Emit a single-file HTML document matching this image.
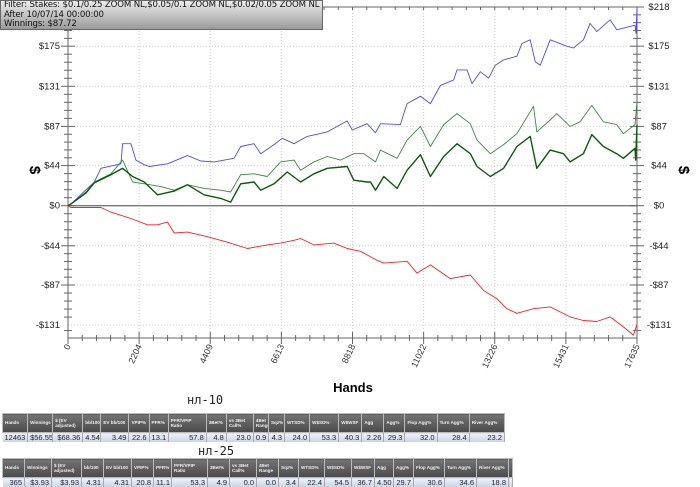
<!DOCTYPE html>
<html><head><meta charset="utf-8"><style>
body{margin:0;width:700px;height:485px;background:#fff;overflow:hidden;font-family:"Liberation Sans",sans-serif;position:relative}
#filter{position:absolute;left:0;top:0;width:323px;height:30px;border:1px solid #666;background:linear-gradient(#ececec,#9a9a9a);font-size:8.6px;line-height:9.6px;padding-left:3px;box-sizing:border-box;color:#111;font-family:"DejaVu Sans",sans-serif;white-space:nowrap;overflow:hidden;letter-spacing:-0.15px}
.ttl{position:absolute;font-size:12px;font-family:"DejaVu Sans Mono","Liberation Mono",monospace;color:#222;line-height:12px}
table{position:absolute;left:2px;border-collapse:collapse;table-layout:fixed}
th{background:linear-gradient(#747474,#4a4a4a);color:#eee;font-weight:bold;border:1px solid #bbb;height:18px;padding:0 2px;text-align:left;font-size:4.6px;line-height:5.5px;overflow:hidden;white-space:normal;vertical-align:middle}
td{background:linear-gradient(#eef2fa,#c8d4e6);border-right:1px solid #aaa;text-align:right;height:9px;padding:0 2px;font-size:7.5px;color:#223;line-height:9px;white-space:nowrap;overflow:hidden}
</style></head><body>
<svg id="chart" width="700" height="400" style="position:absolute;left:0;top:0"></svg>
<div id="filter">Filter: Stakes: $0.1/0.25 ZOOM NL,$0.05/0.1 ZOOM NL,$0.02/0.05 ZOOM NL<br>After 10/07/14 00:00:00<br>Winnings: $87.72</div>
<div class="ttl" style="left:187px;top:394px">нл-10</div>
<table style="top:413px;width:503px">
<colgroup><col style="width:25px"><col style="width:25px"><col style="width:30px"><col style="width:18px"><col style="width:28px"><col style="width:20px"><col style="width:19px"><col style="width:38px"><col style="width:20px"><col style="width:27px"><col style="width:15px"><col style="width:16px"><col style="width:25px"><col style="width:29px"><col style="width:23px"><col style="width:22px"><col style="width:21px"><col style="width:32px"><col style="width:32px"><col style="width:35px"></colgroup>
<tr><th>Hands</th><th>Winnings</th><th>$ (EV adjusted)</th><th>bb/100</th><th>EV bb/100</th><th>VPIP%</th><th>PFR%</th><th>PFR/VPIP Ratio</th><th>3Bet%</th><th>vs 3Bet Call%</th><th>4Bet Range</th><th>Sqz%</th><th>WTSD%</th><th>W$SD%</th><th>W$WSF</th><th>Agg</th><th>Agg%</th><th>Flop Agg%</th><th>Turn Agg%</th><th>River Agg%</th></tr>
<tr><td>12463</td><td>$56.55</td><td>$68.36</td><td>4.54</td><td>3.49</td><td>22.6</td><td>13.1</td><td>57.8</td><td>4.8</td><td>23.0</td><td>0.9</td><td>4.3</td><td>24.0</td><td>53.3</td><td>40.3</td><td>2.26</td><td>29.3</td><td>32.0</td><td>28.4</td><td>23.2</td></tr>
</table>
<div class="ttl" style="left:198px;top:445px">нл-25</div>
<table style="top:458px;width:507px">
<colgroup><col style="width:22px"><col style="width:27px"><col style="width:30px"><col style="width:22px"><col style="width:28px"><col style="width:22px"><col style="width:18px"><col style="width:36px"><col style="width:22px"><col style="width:27px"><col style="width:22px"><col style="width:20px"><col style="width:26px"><col style="width:27px"><col style="width:23px"><col style="width:19px"><col style="width:20px"><col style="width:31px"><col style="width:32px"><col style="width:32px"><col style="width:4px"></colgroup>
<tr><th>Hands</th><th>Winnings</th><th>$ (EV adjusted)</th><th>bb/100</th><th>EV bb/100</th><th>VPIP%</th><th>PFR%</th><th>PFR/VPIP Ratio</th><th>3Bet%</th><th>vs 3Bet Call%</th><th>4Bet Range</th><th>Sqz%</th><th>WTSD%</th><th>W$SD%</th><th>W$WSF</th><th>Agg</th><th>Agg%</th><th>Flop Agg%</th><th>Turn Agg%</th><th>River Agg%</th><th></th></tr>
<tr><td>365</td><td>$3.93</td><td>$3.93</td><td>4.31</td><td>4.31</td><td>20.8</td><td>11.1</td><td>53.3</td><td>4.9</td><td>0.0</td><td>0.0</td><td>3.4</td><td>22.4</td><td>54.5</td><td>36.7</td><td>4.50</td><td>29.7</td><td>30.6</td><td>34.6</td><td>18.8</td><td></td></tr>
</table>
<script>
const xTicks=[0,2204,4409,6613,8818,11022,13226,15431,17635];
const yTicks=[218,175,131,87,44,0,-44,-87,-131];
const yTickLabels=["$218","$175","$131","$87","$44","$0","-$44","-$87","-$131"];
const blueHands=[0,93,815,1021,1640,1691,1949,2104,2362,2516,3083,3702,4115,4527,5146,5353,5765,5971,6384,6642,7003,7415,8034,8653,8808,9271,9529,9684,10303,10406,10509,10922,11231,11541,11953,12056,12365,12520,12778,13035,13242,13500,13913,14068,14325,14480,14635,14944,15460,15666,15975,16182,16388,16800,17006,17574,17605,17635];
const blueVals=[0,2,26,41,46,68,68,50,45,43,46,55,49,48,52,65,68,57,67,74,68,76,81,93,83,90,80,90,89,101,112,120,112,132,138,149,149,134,147,140,154,160,164,178,182,158,154,182,175,173,182,200,191,204,193,198,189,217];
const lgHands=[0,93,557,815,1330,1691,2001,2362,2877,3290,3702,4218,4734,5043,5353,5765,6178,6590,7003,7209,7621,8034,8447,8859,9168,9529,9684,10200,10509,10922,11231,11643,12056,12469,12675,13088,13500,13913,14428,14531,14944,15150,15563,15872,16233,16594,17006,17212,17574,17635];
const lgVals=[0,2,15,26,35,50,26,24,21,17,23,19,17,15,34,35,32,48,50,39,48,54,50,57,57,48,61,52,72,87,65,89,101,90,72,57,67,79,109,81,94,101,87,92,110,92,89,79,89,114];
const dgHands=[0,93,557,815,1330,1691,2001,2362,2774,3290,3702,4218,4734,5043,5353,5765,5971,6384,6796,7209,7621,8034,8653,8859,9271,9375,9530,9787,10200,10509,10922,11231,11643,12056,12469,12675,13088,13500,13913,14325,14531,14944,15356,15563,15975,16233,16594,17006,17212,17574,17595,17635];
const dgVals=[0,2,14,25,34,41,32,26,12,16,23,12,8,4,24,26,17,24,37,26,35,41,43,28,26,26,17,32,19,39,56,32,54,68,57,43,32,41,65,76,41,61,57,48,57,78,65,57,52,63,50,89];
const redH=[0,93,1021,1330,1949,2465,2774,3083,3290,3702,4321,4940,5559,6178,6590,7003,7209,7621,8240,8653,9065,9581,9787,10509,10818,11231,11850,12469,12881,13294,13604,13913,14428,14944,15563,15975,16388,16800,17212,17522,17635];
const redV=[0,-2,-2,-7,-14,-21,-21,-18,-30,-29,-34,-40,-47,-43,-41,-38,-36,-43,-41,-47,-50,-60,-63,-61,-74,-65,-80,-76,-93,-102,-113,-118,-113,-111,-122,-126,-127,-122,-133,-142,-130];
const X0=68,X1=637,Y0=7,Y1=338,XMAX=17635,YMAX=218;
const sx=h=>X0+(h/XMAX)*(X1-X0);
const sy=v=>205.7-(v/YMAX)*(205.7-Y0);
const svg=document.getElementById('chart');const NS='http://www.w3.org/2000/svg';
function mk(t,a,p){const e=document.createElementNS(NS,t);for(const k in a)e.setAttribute(k,a[k]);(p||svg).appendChild(e);return e;}
xTicks.forEach((t,i)=>{if(i>0&&i<xTicks.length-1){const g=mk('line',{x1:sx(t),x2:sx(t),y1:Y0,y2:Y1,stroke:'#ccc','stroke-dasharray':'1,2'});}});
yTicks.forEach(t=>{if(t!==0&&t!==218){const g=mk('line',{x1:X0,x2:X1,y1:sy(t),y2:sy(t),stroke:'#ccc','stroke-dasharray':'1,2'});}});
const fr=mk('path',{d:`M${X0} ${Y0}H${X1}M${X0} ${Y0}V${Y1}H${X1}V${Y0}`,stroke:'#666',fill:'none'});

const zl=mk('line',{x1:X0,x2:X1,y1:sy(0),y2:sy(0),stroke:'#777','stroke-width':1.3});

for(let i=0;i<xTicks.length-1;i++){for(let k=0;k<5;k++){const h=xTicks[i]+(xTicks[i+1]-xTicks[i])*k/5;const big=k===0;
 mk('line',{x1:sx(h),x2:sx(h),y1:Y1-(big?6:3),y2:Y1+(big?6:3),stroke:'#666'});
 mk('line',{x1:sx(h),x2:sx(h),y1:Y0,y2:Y0+3,stroke:'#666'});}}
mk('line',{x1:X1,x2:X1,y1:Y1-6,y2:Y1+6,stroke:'#666'});
xTicks.forEach(t=>{const x=sx(t),y=346;const tx=mk('text',{x:x+3,y:y,'text-anchor':'end','font-size':9,fill:'#333',transform:`rotate(-65 ${x+3} ${y})`});tx.textContent=t;
 });
for(let i=0;i<yTicks.length-1;i++){for(let k=0;k<5;k++){const v=yTicks[i]+(yTicks[i+1]-yTicks[i])*k/5;const big=k===0;
 [X0,X1].forEach(ax=>mk('line',{x1:ax-(big?7:4),x2:ax+(big?7:4),y1:sy(v),y2:sy(v),stroke:'#666'}));}}
[X0,X1].forEach(ax=>mk('line',{x1:ax-4,x2:ax+4,y1:sy(-137),y2:sy(-137),stroke:'#666'}));
yTicks.forEach((t,i)=>{const l=mk('text',{x:X0-8,y:sy(t)+3,'text-anchor':'end','font-size':9.5,fill:'#222'});l.textContent=yTickLabels[i];
 
 const r=mk('text',{x:X1+22,y:sy(t)+3,'text-anchor':'middle','font-size':9.5,fill:'#222'});r.textContent=yTickLabels[i];
 });
function series(H,V,col,name,w){const pts=H.map((h,i)=>sx(h).toFixed(1)+','+sy(V[i]).toFixed(1)).join(' ');
 const p=mk('polyline',{points:pts,stroke:col,fill:'none','stroke-width':w,'stroke-linejoin':'round'});}
series(redH,redV,'#ff2020','series-red-line',0.9);
series(blueHands,blueVals,'#4a4aff','series-blue-line',0.9);
series(lgHands,lgVals,'#3a8a3a','series-light-green-line',0.9);
series(dgHands,dgVals,'#0b5a0b','series-dark-green-line',1.4);
const xt=mk('text',{x:353,y:392,'text-anchor':'middle','font-size':13,'font-weight':'bold',fill:'#000'});xt.textContent='Hands';

[[30,'y-axis-title-left'],[679,'y-axis-title-right']].forEach(([x,n])=>{const t=mk('text',{x:x,y:170,'text-anchor':'middle','font-size':15,'font-weight':'bold',fill:'#000',transform:`rotate(90 ${x} 170)`});t.textContent='$';
 });
</script>
</body></html>
